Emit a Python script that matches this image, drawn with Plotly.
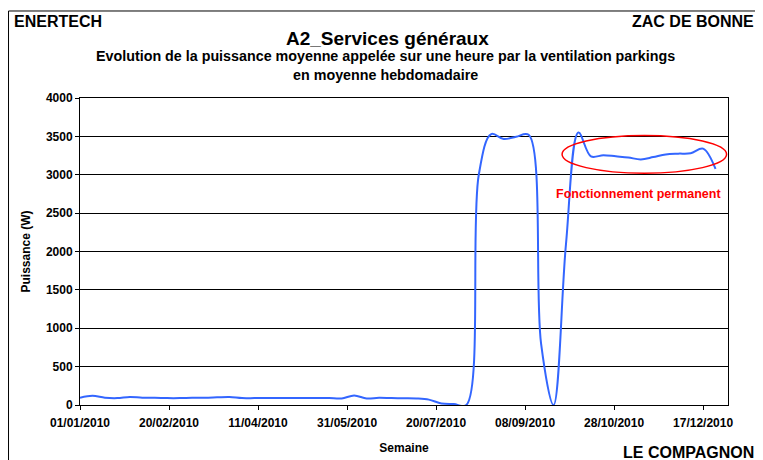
import plotly.graph_objects as go

# Weekly dates (one point per week of 2010)
semaines = [
    "2010-01-01", "2010-01-08", "2010-01-15", "2010-01-22", "2010-01-29",
    "2010-02-05", "2010-02-12", "2010-02-19", "2010-02-26", "2010-03-05",
    "2010-03-12", "2010-03-19", "2010-03-26", "2010-04-02", "2010-04-09",
    "2010-04-16", "2010-04-23", "2010-04-30", "2010-05-07", "2010-05-14",
    "2010-05-21", "2010-05-28", "2010-06-04", "2010-06-11", "2010-06-18",
    "2010-06-25", "2010-07-02", "2010-07-09", "2010-07-16", "2010-07-23",
    "2010-07-30", "2010-08-06", "2010-08-13", "2010-08-20", "2010-08-27",
    "2010-09-03", "2010-09-10", "2010-09-17", "2010-09-24", "2010-10-01",
    "2010-10-08", "2010-10-15", "2010-10-22", "2010-10-29", "2010-11-05",
    "2010-11-12", "2010-11-19", "2010-11-26", "2010-12-03", "2010-12-10",
    "2010-12-17", "2010-12-24",
]

# Mean hourly power (W), weekly average
puissance = [
    95, 120, 95, 90, 105, 95, 95, 90, 90, 95,
    95, 100, 105, 90, 90, 90, 90, 90, 90, 90,
    90, 85, 125, 85, 95, 90, 88, 85, 70, 20,
    12, 0, 3000, 3530, 3465, 3495, 3520, 800, 0, 2100,
    3550, 3240, 3255, 3240, 3225, 3200, 3230, 3265, 3275, 3280,
    3340, 3075,
]

y_ticks = [0, 500, 1000, 1500, 2000, 2500, 3000, 3500, 4000]

FONT = "Arial, Liberation Sans, sans-serif"

fig = go.Figure()
fig.add_trace(go.Scatter(
    x=semaines, y=puissance, mode="lines",
    line=dict(color="#3366FF", width=2, shape="spline", smoothing=1),
    showlegend=False, hoverinfo="x+y",
))

# The page body has an 8px margin, so the figure is 8px smaller than the window
fig.update_layout(
    width=755, height=452,
    margin=dict(l=72, r=35, t=90, b=55, autoexpand=False),
    paper_bgcolor="white", plot_bgcolor="white",
    font=dict(family=FONT, color="black"),
    xaxis=dict(
        type="date", automargin=False,
        range=["2010-01-01", "2010-12-31"],
        tickmode="linear", tick0="2010-01-01", dtick=50 * 86400000,
        tickformat="%d/%m/%Y",
        showgrid=False, showline=True, linecolor="black", linewidth=1,
        mirror=True, ticks="outside", ticklen=4, tickcolor="black",
        ticklabelstandoff=3,
        tickfont=dict(family=FONT, size=12, color="black", weight="bold"),
        title=dict(text="<b>Semaine</b>", font=dict(family=FONT, size=12, color="black"),
                   standoff=14),
    ),
    yaxis=dict(
        automargin=False,
        range=[0, 4000], tickmode="array", tickvals=y_ticks,
        ticktext=[str(v) for v in y_ticks],
        showgrid=True, gridcolor="black", gridwidth=1,
        showline=True, linecolor="black", linewidth=1, mirror=True,
        ticks="outside", ticklen=4, tickcolor="black",
        tickfont=dict(family=FONT, size=12, color="black", weight="bold"),
        title=dict(text="<b>Puissance (W)</b>", font=dict(family=FONT, size=12, color="black"),
                   standoff=12),
        zeroline=False,
    ),
)

# Outer frame (left and top edges visible)
fig.add_shape(type="line", xref="paper", yref="paper",
              x0=-0.1103, x1=-0.1103, y0=1.2834, y1=-0.3,
              line=dict(color="black", width=1))
fig.add_shape(type="line", xref="paper", yref="paper",
              x0=-0.1103, x1=1.2, y0=1.2834, y1=1.2834,
              line=dict(color="black", width=1))

# Red ellipse
fig.add_shape(type="circle", xref="x", yref="y",
              x0="2010-09-28 19:00", x1="2010-12-30 05:00",
              y0=3021, y1=3512,
              line=dict(color="#FF0000", width=1.5))

fig.add_annotation(x="2010-11-10 12:00", y=2751, xref="x", yref="y",
                   text="<b>Fonctionnement permanent</b>", showarrow=False,
                   font=dict(family=FONT, size=12.5, color="#FF0000"))

# Header / footer texts
fig.add_annotation(x=-0.105, y=1.2504, xref="paper", yref="paper",
                   xanchor="left", yanchor="middle", showarrow=False,
                   text="<b>ENERTECH</b>", font=dict(family=FONT, size=16, color="black"))
fig.add_annotation(x=1.043, y=1.2504, xref="paper", yref="paper",
                   xanchor="right", yanchor="middle", showarrow=False,
                   text="<b>ZAC DE BONNE</b>", font=dict(family=FONT, size=16, color="black"))
fig.add_annotation(x=1.043, y=-0.155, xref="paper", yref="paper",
                   xanchor="right", yanchor="middle", showarrow=False,
                   text="<b>LE COMPAGNON</b>", font=dict(family=FONT, size=16, color="black"))
fig.add_annotation(x=0.4738, y=1.1934, xref="paper", yref="paper",
                   xanchor="center", yanchor="middle", showarrow=False,
                   text="<b>A2_Services généraux</b>", font=dict(family=FONT, size=19, color="black"))
fig.add_annotation(x=0.472, y=1.107, xref="paper", yref="paper",
                   xanchor="center", yanchor="middle", showarrow=False,
                   text="<b>Evolution de la puissance moyenne appelée sur une heure par la ventilation parkings</b><br><b>en moyenne hebdomadaire</b>",
                   font=dict(family=FONT, size=14.3, color="black"))

fig.write_html("out.html")
